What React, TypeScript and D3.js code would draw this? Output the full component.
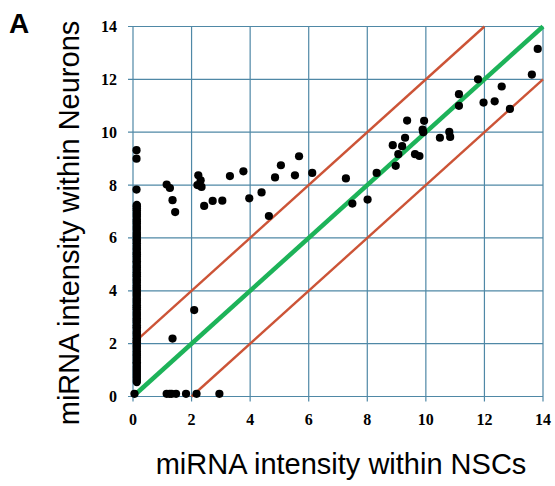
import React from "react";
import * as d3 from "d3";

const xTicks = [0, 2, 4, 6, 8, 10, 12, 14];
const yTicks = [0, 2, 4, 6, 8, 10, 12, 14];

// scattered miRNAs: NSC intensity / Neuron intensity
const nscValues = [
  0.12, 0.12, 0.12,
  1.15, 1.26, 1.35, 1.44,
  2.23, 2.31, 2.2, 2.34, 2.43, 2.72, 3.05, 3.31, 3.77, 3.97, 4.39, 4.64, 4.85, 5.05, 5.53, 5.67, 6.12,
  7.27, 7.49, 8.01, 8.32, 8.97, 9.06, 8.87, 9.19, 9.29, 9.36, 9.63, 9.78, 9.94, 9.89, 9.91,
  10.48, 10.8, 10.83, 11.13, 11.13, 11.78, 11.97, 12.35, 12.59, 12.87, 13.62, 13.82,
  2.09, 1.35,
  0.05, 1.15, 1.25, 1.32, 1.47, 1.81, 2.17, 2.95,
];
const neuronValues = [
  9.32, 9.0, 7.83,
  8.02, 7.89, 7.43, 6.98,
  8.37, 8.18, 8.0, 7.93, 7.21, 7.4, 7.41, 8.34, 8.52, 7.5, 7.72, 6.83, 8.29, 8.75, 8.37, 9.09, 8.46,
  8.25, 7.3, 7.45, 8.46, 8.73, 9.17, 9.51, 9.47, 9.79, 10.44, 9.17, 9.1, 10.43, 10.1, 10.0,
  9.79, 10.01, 9.82, 11.44, 11.0, 12.0, 11.12, 11.17, 11.73, 10.88, 12.18, 13.15,
  3.27, 2.19,
  0.1, 0.1, 0.1, 0.1, 0.1, 0.1, 0.1, 0.1,
];

// dense stack of miRNAs absent in NSCs
const columnNsc = 0.13;
const columnNeuronValues = [
  0.55, 0.62, 0.7, 0.78, 0.85, 0.93, 1.0, 1.08, 1.15, 1.24, 1.3, 1.38, 1.47, 1.55, 1.62, 1.7,
  1.8, 1.88, 1.95, 2.05, 2.12, 2.2, 2.3, 2.38, 2.45, 2.55, 2.62, 2.7, 2.8, 2.88, 2.95, 3.05,
  3.12, 3.2, 3.3, 3.38, 3.45, 3.55, 3.62, 3.7, 3.8, 3.88, 3.95, 4.05, 4.12, 4.2, 4.3, 4.38,
  4.45, 4.55, 4.62, 4.7, 4.8, 4.88, 4.95, 5.05, 5.12, 5.2, 5.3, 5.38, 5.45, 5.55, 5.62, 5.7,
  5.8, 5.88, 5.95, 6.05, 6.12, 6.2, 6.3, 6.38, 6.45, 6.55, 6.62, 6.7, 6.8, 6.88, 6.95, 7.05,
  7.12, 7.2, 7.25,
];

// reference lines: [x1, y1, x2, y2]
const identityLine = [0, 0, 14, 14];
const foldLines = [
  [0, 2, 12, 14],
  [2, 0, 14, 12],
];

const serif = "'Liberation Serif', 'Times New Roman', Times, serif";
const sans = "'Liberation Sans', Arial, Helvetica, sans-serif";

export default function App() {
  const x = d3.scaleLinear().domain([0, 14]).range([133, 543]);
  const y = d3.scaleLinear().domain([0, 14]).range([396.5, 26.5]);
  const gridColor = "#4f88a6";
  const points = nscValues.map((v, i) => [v, neuronValues[i]]);
  const column = columnNeuronValues.map((v) => [columnNsc, v]);

  return (
    <div style={{ position: "absolute", left: 0, top: 0 }}>
      <svg width={555} height={486} style={{ display: "block", background: "#fff" }}>
        <text x={9} y={33} fontFamily={sans} fontWeight="bold" fontSize={28}>
          A
        </text>
        {/* grid */}
        {xTicks.map((t) => (
          <line key={"vx" + t} x1={x(t)} x2={x(t)} y1={y(0) + 5} y2={y(14)} stroke={gridColor} strokeWidth={1.2} />
        ))}
        {yTicks.map((t) => (
          <line key={"hy" + t} x1={x(0) - 5} x2={x(14)} y1={y(t)} y2={y(t)} stroke={gridColor} strokeWidth={1.2} />
        ))}
        {/* tick labels */}
        {xTicks.map((t) => (
          <text key={"xt" + t} x={x(t)} y={425} textAnchor="middle" fontFamily={serif} fontWeight="bold" fontSize={16}>
            {t}
          </text>
        ))}
        {yTicks.map((t) => (
          <text key={"yt" + t} x={117} y={y(t) + 5.5} textAnchor="end" fontFamily={serif} fontWeight="bold" fontSize={16}>
            {t}
          </text>
        ))}
        {/* fold-change lines */}
        {foldLines.map((l, i) => (
          <line key={"f" + i} x1={x(l[0])} y1={y(l[1])} x2={x(l[2])} y2={y(l[3])} stroke="#cc5437" strokeWidth={2.4} />
        ))}
        <line
          x1={x(identityLine[0])}
          y1={y(identityLine[1])}
          x2={x(identityLine[2])}
          y2={y(identityLine[3])}
          stroke="#1db359"
          strokeWidth={4.5}
        />
        {/* points */}
        {column.map((p, i) => (
          <circle key={"c" + i} cx={x(p[0])} cy={y(p[1])} r={4.2} fill="#000" />
        ))}
        {points.map((p, i) => (
          <circle key={"p" + i} cx={x(p[0])} cy={y(p[1])} r={4.1} fill="#000" />
        ))}
        {/* axis titles */}
        <text x={341} y={474} textAnchor="middle" fontFamily={sans} fontSize={29}>
          miRNA intensity within NSCs
        </text>
        <text transform="translate(79,223) rotate(-90)" textAnchor="middle" fontFamily={sans} fontSize={29}>
          miRNA intensity within Neurons
        </text>
      </svg>
    </div>
  );
}
